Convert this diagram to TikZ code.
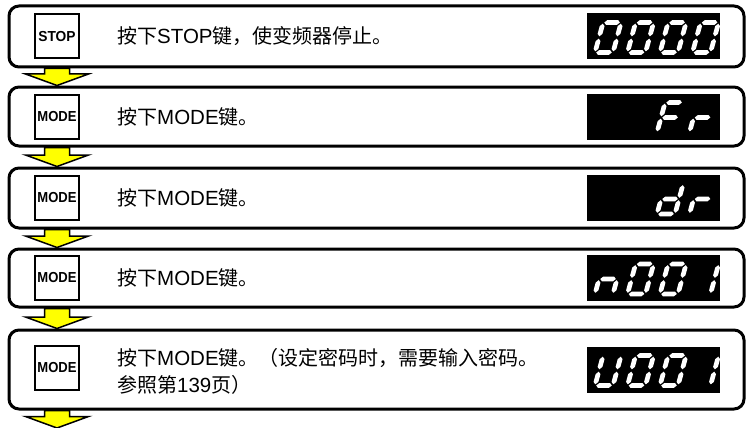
\documentclass[tikz,border=0pt]{standalone}
\usepackage{fontspec}
\setmainfont{Liberation Sans}
\newfontfamily\cjk{Noto Sans CJK SC}
\usetikzlibrary{calc}
\pgfdeclarelayer{bg}
\pgfsetlayers{bg,main}
\definecolor{arrowyellow}{HTML}{FFFF00}
% seven-segment pieces (local units, y up, digit 18 x 30)
\newcommand\hs[1]{\fill[segfill] (1.2,#1) -- (3.6,#1+2.4) -- (14.4,#1+2.4) -- (16.8,#1) -- (14.4,#1-2.4) -- (3.6,#1-2.4) -- cycle;}
\newcommand\vs[3]{\fill[segfill] (#1,#2+1.2) -- (#1+2.4,#2+3.6) -- (#1+2.4,#3-3.6) -- (#1,#3-1.2) -- (#1-2.4,#3-3.6) -- (#1-2.4,#2+3.6) -- cycle;}
\newcommand\sega{\hs{30}}
\newcommand\segg{\hs{15}}
\newcommand\segd{\hs{0}}
\newcommand\segf{\vs{0}{15}{30}}
\newcommand\sege{\vs{0}{0}{15}}
\newcommand\segb{\vs{18}{15}{30}}
\newcommand\segc{\vs{18}{0}{15}}
\newcommand\lcddigit[3]{%
  \begin{scope}[shift={($(#1.center)+(#2,16)$)}, x=1pt, y=1pt, xslant=0.27]
    \foreach \s in {#3}{\csname seg\s\endcsname}
  \end{scope}}
\newcommand\flowarr[2]{%
  \path (k1.center |- #1.south) coordinate (as) (k1.center |- #2) coordinate (at);
  \draw[flowarrow] ($(as)+(-12.5,0)$) -- ($(as)+(12.5,0)$) -- ($(at)+(12.5,-11.5)$)
    -- ($(at)+(31.5,-11.5)$) -- (at) -- ($(at)+(-31.5,-11.5)$) -- ($(at)+(-12.5,-11.5)$) -- cycle;}
\tikzset{
  flowbox/.style={draw, line width=3pt, rounded corners=10pt, fill=white, inner sep=0pt, minimum width=735pt},
  keybtn/.style={draw, line width=2pt, fill=white, minimum size=44pt, inner sep=0pt,
    font=\fontsize{14.5}{14.5}\selectfont\bfseries},
  lcd/.style={fill=black, minimum width=133pt, minimum height=46pt, inner sep=0pt},
  msg/.style={anchor=west, inner sep=0pt, font=\fontsize{20.5}{27}\selectfont, align=left},
  flowarrow/.style={fill=arrowyellow, draw=black, line width=1.5pt, line join=miter},
  segfill/.style={fill=white},
}
\begin{document}
\begin{tikzpicture}[x=1pt, y=-1pt]
\useasboundingbox (0,0) rectangle (747,428);
% boxes
\node[flowbox, minimum height=61pt] (b1) at (376.5,36.5) {};
\node[flowbox, minimum height=59pt] (b2) at (376.5,116.5) {};
\node[flowbox, minimum height=60pt] (b3) at (376.5,198) {};
\node[flowbox, minimum height=58pt] (b4) at (376.5,278) {};
\node[flowbox, minimum height=79pt] (b5) at (376.5,369.5) {};
% keys
\node[keybtn] (k1) at (57,36.5) {\scalebox{0.95}[1]{STOP}};
\node[keybtn] (k2) at (57,116.5) {\scalebox{0.9}[1]{MODE}};
\node[keybtn] (k3) at (57,198) {\scalebox{0.9}[1]{MODE}};
\node[keybtn] (k4) at (57,278) {\scalebox{0.9}[1]{MODE}};
\node[keybtn] (k5) at (57,367.5) {\scalebox{0.9}[1]{MODE}};
% messages
\node[msg] (t1) at (117,36.5) {{\cjk\fontsize{20}{27}\selectfont 按下}STOP{\cjk\fontsize{20}{27}\selectfont 键，使变频器停止。}};
\node[msg] (t2) at (117,116.5) {{\cjk\fontsize{20}{27}\selectfont 按下}MODE{\cjk\fontsize{20}{27}\selectfont 键。}};
\node[msg] (t3) at (117,198) {{\cjk\fontsize{20}{27}\selectfont 按下}MODE{\cjk\fontsize{20}{27}\selectfont 键。}};
\node[msg] (t4) at (117,278) {{\cjk\fontsize{20}{27}\selectfont 按下}MODE{\cjk\fontsize{20}{27}\selectfont 键。}};
\node[msg] (t5) at (117,371) {{\cjk\fontsize{20}{27}\selectfont 按下}MODE{\cjk\fontsize{20}{27}\selectfont 键。（设定密码时，需要输入密码。}\\{\cjk\fontsize{20}{27}\selectfont 参照第}139{\cjk\fontsize{20}{27}\selectfont 页）}};
% displays
\node[lcd] (d1) at (653.5,36.5) {};
\node[lcd] (d2) at (653.5,116.5) {};
\node[lcd] (d3) at (653.5,198) {};
\node[lcd] (d4) at (653.5,278) {};
\node[lcd] (d5) at (653.5,369.5) {};
\lcddigit{d1}{-58.5}{a,b,c,d,e,f}
\lcddigit{d1}{-26}{a,b,c,d,e,f}
\lcddigit{d1}{6.5}{a,b,c,d,e,f}
\lcddigit{d1}{39}{a,b,c,d,e,f}
\lcddigit{d2}{3.5}{a,e,f,g}
\lcddigit{d2}{36}{e,g}
\lcddigit{d3}{3.5}{b,c,d,e,g}
\lcddigit{d3}{36}{e,g}
\lcddigit{d4}{-58.5}{c,e,g}
\lcddigit{d4}{-26}{a,b,c,d,e,f}
\lcddigit{d4}{6.5}{a,b,c,d,e,f}
\lcddigit{d4}{39}{b,c}
\lcddigit{d5}{-58.5}{b,c,d,e,f}
\lcddigit{d5}{-26}{a,b,c,d,e,f}
\lcddigit{d5}{6.5}{a,b,c,d,e,f}
\lcddigit{d5}{39}{b,c}
% arrows
\coordinate (flowend) at (57,428);
\begin{pgfonlayer}{bg}
\flowarr{b1}{b2.north}
\flowarr{b2}{b3.north}
\flowarr{b3}{b4.north}
\flowarr{b4}{b5.north}
\flowarr{b5}{flowend}
\end{pgfonlayer}
\end{tikzpicture}
\end{document}
